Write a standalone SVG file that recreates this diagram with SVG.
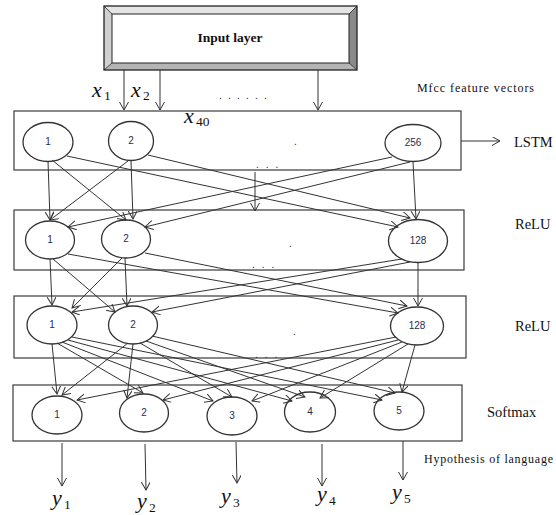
<svg xmlns="http://www.w3.org/2000/svg" width="556" height="515" viewBox="0 0 556 515">
<defs>
<marker id="arr" markerUnits="userSpaceOnUse" markerWidth="12" markerHeight="12" refX="8" refY="4.5" orient="auto">
<path d="M0,0 L8,4.5 L0,9" fill="none" stroke="#333" stroke-width="1"/>
</marker>
</defs>
<style>
.box{fill:none;stroke:#3a3a3a;stroke-width:1.2}
.nd{fill:#fff;stroke:#333;stroke-width:1.3}
.nt{font-family:"Liberation Sans",Arial,sans-serif;font-size:10px;fill:#1f2d4d;text-anchor:middle}
.lbl{font-family:"Liberation Serif","Times New Roman",serif;font-size:14.5px;fill:#111}
.sm{font-family:"Liberation Serif","Times New Roman",serif;font-size:12px;fill:#111}
.mi{font-family:"Liberation Serif","Times New Roman",serif;font-style:italic;font-size:22px;fill:#111}
.sub{font-family:"Liberation Serif","Times New Roman",serif;font-size:13.5px;fill:#111}
.dot{font-family:"Liberation Sans",Arial,sans-serif;font-size:10px;fill:#222}
#edges line{stroke:#333;stroke-width:1;marker-end:url(#arr)}
</style>
<rect width="556" height="515" fill="#fff"/>

<g id="input">
<polygon points="104,6 357,6 349,14 112,14" fill="#e4e4e4"/>
<polygon points="104,6 112,14 112,63 104,70" fill="#d0d0d0"/>
<polygon points="357,6 357,70 349,63 349,14" fill="#8a8a8a"/>
<polygon points="104,70 357,70 349,63 112,63" fill="#b4b4b4"/>
<rect x="112" y="14" width="237" height="49" fill="#fff" stroke="#222" stroke-width="1"/>
<rect x="104" y="6" width="253" height="64" fill="none" stroke="#222" stroke-width="1.3"/>
<line x1="104" y1="6" x2="112" y2="14" stroke="#222" stroke-width="0.8"/>
<line x1="357" y1="6" x2="349" y2="14" stroke="#222" stroke-width="0.8"/>
<line x1="104" y1="70" x2="112" y2="63" stroke="#222" stroke-width="0.8"/>
<line x1="357" y1="70" x2="349" y2="63" stroke="#222" stroke-width="0.8"/>
<text x="230" y="42" text-anchor="middle" font-family="'Liberation Serif','Times New Roman',serif" font-weight="bold" font-size="13.5" fill="#111">Input layer</text>
</g>

<g id="input-labels">
<text class="mi" x="92" y="97">x</text><text class="sub" x="104" y="100">1</text>
<text class="mi" x="131" y="97">x</text><text class="sub" x="143" y="100">2</text>
<text class="dot" x="219" y="99" letter-spacing="6.2">......</text>
<text class="mi" x="184" y="123">x</text><text class="sub" x="196" y="126">40</text>
<text class="sm" x="417" y="92" textLength="117">Mfcc feature vectors</text>
</g>

<g id="lstm">
<rect class="box" x="14" y="111" width="447" height="59"/>
<ellipse class="nd" cx="48" cy="142" rx="25" ry="19.5"/><text class="nt" x="48" y="145">1</text>
<ellipse class="nd" cx="131" cy="141" rx="22.5" ry="19.5"/><text class="nt" x="131" y="144">2</text>
<ellipse class="nd" cx="413" cy="143" rx="28" ry="18.5"/><text class="nt" x="413" y="146">256</text>
<text class="dot" x="294" y="145">.</text>
<text class="dot" x="256" y="168" letter-spacing="7">...</text>
<text class="lbl" x="514" y="147">LSTM</text>
</g>

<g id="relu1">
<rect class="box" x="14" y="210" width="450" height="60"/>
<ellipse class="nd" cx="50" cy="240" rx="24.5" ry="19"/><text class="nt" x="50" y="243">1</text>
<ellipse class="nd" cx="126" cy="239" rx="24.5" ry="19"/><text class="nt" x="126" y="242">2</text>
<ellipse class="nd" cx="418" cy="241" rx="29.5" ry="21.5"/><text class="nt" x="418" y="244">128</text>
<text class="dot" x="289" y="247">.</text>
<text class="dot" x="252" y="268" letter-spacing="7">...</text>
<text class="lbl" x="515" y="229">ReLU</text>
</g>

<g id="relu2">
<rect class="box" x="14" y="296" width="452" height="62"/>
<ellipse class="nd" cx="52" cy="325" rx="25" ry="19"/><text class="nt" x="52" y="328">1</text>
<ellipse class="nd" cx="133" cy="325" rx="24.5" ry="19"/><text class="nt" x="133" y="328">2</text>
<ellipse class="nd" cx="417" cy="326" rx="26.5" ry="19"/><text class="nt" x="417" y="329">128</text>
<text class="dot" x="293" y="335">.</text>
<text class="dot" x="255" y="358" letter-spacing="7">...</text>
<text class="lbl" x="515" y="331">ReLU</text>
</g>

<g id="softmax">
<rect class="box" x="13" y="385" width="449" height="56"/>
<ellipse class="nd" cx="57" cy="415" rx="25" ry="19"/><text class="nt" x="57" y="418">1</text>
<ellipse class="nd" cx="144" cy="413" rx="24.5" ry="19"/><text class="nt" x="144" y="416">2</text>
<ellipse class="nd" cx="232" cy="416" rx="25" ry="19"/><text class="nt" x="232" y="419">3</text>
<ellipse class="nd" cx="310" cy="412" rx="25.5" ry="20"/><text class="nt" x="310" y="415">4</text>
<ellipse class="nd" cx="399" cy="411" rx="25" ry="19"/><text class="nt" x="399" y="414">5</text>
<text class="lbl" x="487" y="417">Softmax</text>
</g>

<g id="outputs">
<text class="sm" x="424" y="463" textLength="129">Hypothesis of language</text>
<text class="mi" x="52" y="505">y</text><text class="sub" x="64" y="509">1</text>
<text class="mi" x="137" y="508">y</text><text class="sub" x="149" y="512">2</text>
<text class="mi" x="221" y="503">y</text><text class="sub" x="233" y="507">3</text>
<text class="mi" x="317" y="501">y</text><text class="sub" x="329" y="505">4</text>
<text class="mi" x="392" y="499">y</text><text class="sub" x="404" y="503">5</text>
</g>

<g id="edges">
<line x1="124" y1="70" x2="124" y2="110"/>
<line x1="160" y1="70" x2="160" y2="110"/>
<line x1="318" y1="70" x2="318" y2="110"/>
<line x1="461" y1="141" x2="500" y2="141"/>

<line x1="48" y1="161" x2="50" y2="220"/>
<line x1="52" y1="160" x2="126" y2="220"/>
<line x1="131" y1="161" x2="133" y2="219"/>
<line x1="128" y1="161" x2="50" y2="220"/>
<line x1="67" y1="156" x2="398" y2="227"/>
<line x1="148" y1="155" x2="410" y2="218"/>
<line x1="392" y1="157" x2="68" y2="227"/>
<line x1="410" y1="162" x2="145" y2="227"/>
<line x1="413" y1="162" x2="416" y2="219"/>
<line x1="255" y1="172" x2="255" y2="211"/>

<line x1="50" y1="259" x2="52" y2="305"/>
<line x1="53" y1="259" x2="115" y2="312"/>
<line x1="125" y1="258" x2="127" y2="306"/>
<line x1="122" y1="258" x2="72" y2="308"/>
<line x1="68" y1="254" x2="398" y2="313"/>
<line x1="145" y1="253" x2="407" y2="306"/>
<line x1="402" y1="259" x2="72" y2="312"/>
<line x1="410" y1="262" x2="152" y2="312"/>
<line x1="418" y1="262" x2="418" y2="306"/>

<line x1="52" y1="344" x2="57" y2="394"/>
<line x1="57" y1="343" x2="143" y2="393"/>
<line x1="62" y1="342" x2="213" y2="401"/>
<line x1="68" y1="340" x2="292" y2="401"/>
<line x1="72" y1="337" x2="382" y2="400"/>
<line x1="128" y1="343" x2="62" y2="395"/>
<line x1="133" y1="344" x2="127" y2="398"/>
<line x1="140" y1="343" x2="232" y2="397"/>
<line x1="146" y1="341" x2="305" y2="397"/>
<line x1="152" y1="336" x2="395" y2="393"/>
<line x1="396" y1="337" x2="77" y2="400"/>
<line x1="398" y1="340" x2="163" y2="400"/>
<line x1="402" y1="342" x2="252" y2="401"/>
<line x1="408" y1="344" x2="320" y2="398"/>
<line x1="415" y1="345" x2="402" y2="392"/>

<line x1="62" y1="443" x2="62" y2="486"/>
<line x1="145" y1="444" x2="146" y2="490"/>
<line x1="236" y1="442" x2="237" y2="483"/>
<line x1="322" y1="444" x2="322" y2="486"/>
<line x1="403" y1="441" x2="403" y2="480"/>
</g>
</svg>
